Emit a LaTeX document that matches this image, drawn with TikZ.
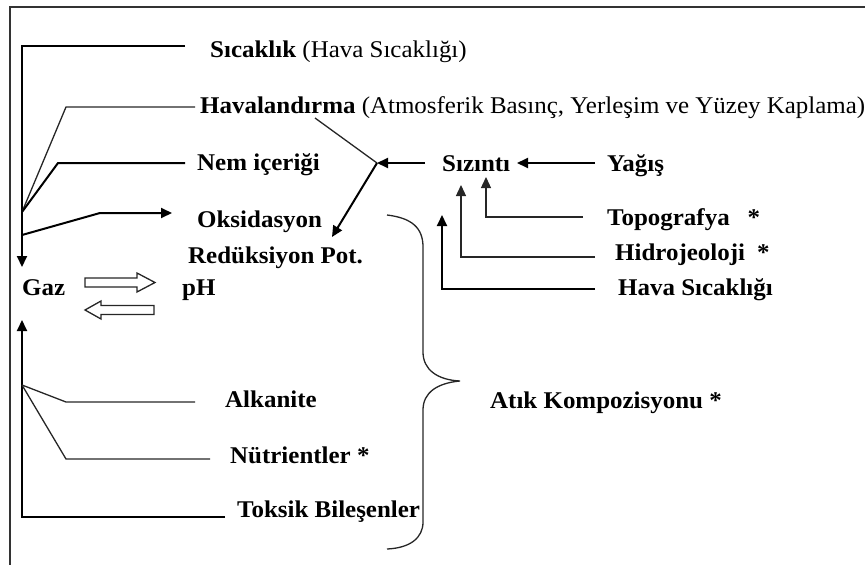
\documentclass[tikz,border=0pt]{standalone}
\usepackage{fontspec}
\setmainfont{Liberation Serif}[FakeStretch=1.04]
\usetikzlibrary{arrows.meta}
\begin{document}
\begin{tikzpicture}[x=1pt,y=-1pt,
  lbl/.style={anchor=base west,inner sep=0pt,font=\fontsize{24}{28}\selectfont\bfseries},
  heavy/.style={line width=2pt,black},
  light/.style={line width=1.3pt,black!85},
  tip/.style={-{Triangle[length=11pt,width=10pt]}},
  hollow/.style={line width=1.3pt,black!85,fill=white,line join=miter},
  frameline/.style={line width=1.6pt,black!80}]
\useasboundingbox (0,0) rectangle (865,565);

% outer frame
\draw[frameline] (10,565) -- (10,7) -- (865,7);

% labels
\node[lbl] (sic)  at (210,57)  {Sıcaklık \mdseries(Hava Sıcaklığı)};
\node[lbl] (hav)  at (200,113) {Havalandırma \mdseries(Atmosferik Basınç, Yerleşim ve Yüzey Kaplama)};
\node[lbl] (nem)  at (197,170) {Nem içeriği};
\node[lbl] (oks)  at (197,227) {Oksidasyon};
\node[lbl] (red)  at (188,263) {Redüksiyon Pot.};
\node[lbl] (gaz)  at (22,295)  {Gaz};
\node[lbl] (ph)   at (182,295) {pH};
\node[lbl] (siz)  at (442,171) {Sızıntı};
\node[lbl] (yag)  at (607,171) {Yağış};
\node[lbl] (topo) at (607,225) {Topografya\hspace{18pt}*};
\node[lbl] (hid)  at (615,260) {Hidrojeoloji\hspace{12pt}*};
\node[lbl] (hsic) at (618,295) {Hava Sıcaklığı};
\node[lbl] (alk)  at (225,407) {Alkanite};
\node[lbl] (nut)  at (230,463) {Nütrientler *};
\node[lbl] (tok)  at (237,517) {Toksik Bileşenler};
\node[lbl] (atik) at (490,408) {Atık Kompozisyonu *};

% connector ends and bends
\coordinate (sicE) at (185,46);
\coordinate (havE) at (195,107);
\coordinate (nemE) at (185,163);
\coordinate (gazIn) at (22,267);
\coordinate (meet) at (22,212);
\coordinate (oksS) at (22,235);
\coordinate (oksT) at (172,213);
\coordinate (tokE) at (225,517);
\coordinate (gazUp) at (22,320);
\coordinate (fork) at (22,385);
\coordinate (alkE) at (195,402);
\coordinate (nutE) at (210,459);
\coordinate (knot) at (377,163);
\coordinate (havD) at (315,118);
\coordinate (redT) at (332,237);
\coordinate (sizE) at (425,163);
\coordinate (sizR) at (517,163);
\coordinate (yagW) at (595,163);
\coordinate (topoE) at (583,217);
\coordinate (topoT) at (486,177);
\coordinate (hidE) at (595,257);
\coordinate (hidT) at (461,185);
\coordinate (hsicE) at (595,289);
\coordinate (hsicT) at (442,215);

% left-hand feeds into Gaz
\draw[heavy,tip] (sicE) -- (22,46) -- (gazIn);
\draw[light] (havE) -- (66,107) -- (meet);
\draw[heavy] (nemE) -- (58,163) -- (meet);
\draw[heavy,tip] (oksS) -- (100,213) -- (oksT);
\draw[heavy,tip] (tokE) -- (22,517) -- (gazUp);
\draw[light] (alkE) -- (66,402) -- (fork);
\draw[light] (nutE) -- (66,459) -- (fork);

% Gaz <-> pH
\draw[hollow] (85,278) -- (137,278) -- (137,273) -- (155,282.5) -- (137,292) -- (137,287) -- (85,287) -- cycle;
\draw[hollow] (154,305.5) -- (101,305.5) -- (101,301) -- (85,310) -- (101,319) -- (101,314.5) -- (154,314.5) -- cycle;

% seepage branch
\draw[light] (havD) -- (knot);
\draw[heavy,tip] (sizE) -- (knot);
\draw[heavy,tip] (knot) -- (redT);
\draw[heavy,tip] (yagW) -- (sizR);
\draw[light,tip] (topoE) -| (topoT);
\draw[light,tip] (hidE) -| (hidT);
\draw[heavy,tip] (hsicE) -| (hsicT);

% brace around the waste-composition factors
\draw[light] (387,215) .. controls (412,218) and (423,228) .. (423,247)
  -- (423,352) .. controls (423,370) and (438,380) .. (460,381)
  .. controls (438,383) and (423,392) .. (423,410)
  -- (423,522) .. controls (423,538) and (410,548) .. (387,549);
\end{tikzpicture}
\end{document}
